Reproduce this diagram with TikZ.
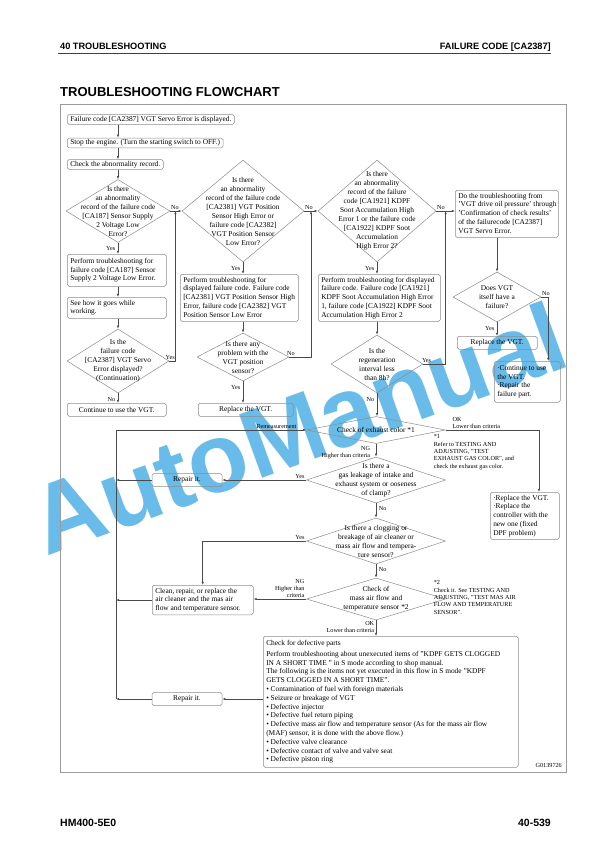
\documentclass[tikz,border=0pt]{standalone}
\usepackage{fontspec}
\setmainfont{Liberation Serif}
\newfontfamily\hsans{Liberation Sans}
\usetikzlibrary{shapes.geometric,arrows.meta,calc}

\definecolor{bxc}{HTML}{8C8C8C}
\definecolor{lnc}{HTML}{4A4A4A}
\definecolor{wmc}{HTML}{4FB1E6}
\definecolor{frc}{HTML}{9A9A9A}

\newcommand\fA{\fontsize{7.4bp}{8.8bp}\selectfont}
\newcommand\fD{\fontsize{7.4bp}{9bp}\selectfont}
\newcommand\fS{\fontsize{6.2bp}{7.3bp}\selectfont}
\newcommand\fH{\hsans\bfseries\fontsize{9.2bp}{10bp}\selectfont}
\newcommand\fF{\hsans\bfseries\fontsize{10.5bp}{11bp}\selectfont}
\newcommand\lbx[2]{\makebox[#1][l]{\begin{tabular}{@{}l@{}}#2\end{tabular}}}

\tikzset{
 box/.style={draw=bxc, line width=0.5bp, rounded corners=1.8bp, font=\fA, inner xsep=3bp, inner ysep=1.6bp, text=black},
 lbox/.style={box, anchor=north west},
 dia/.style={draw=bxc, line width=0.5bp, diamond, inner sep=0pt},
 dtxt/.style={font=\fD, align=center, inner sep=0pt},
 lab/.style={font=\fS, inner sep=0.6bp},
 arr/.style={draw=lnc, line width=0.6bp, -{Latex[length=3.2bp,width=2.4bp]}},
}

\begin{document}
\begin{tikzpicture}[x=1bp,y=-1bp]
\useasboundingbox (0,0) rectangle (612,864);
\fill[white] (0,0) rectangle (612,864);

% ---- watermark (behind the drawing)
\node[rotate=20, font=\hsans\bfseries\fontsize{98bp}{98bp}\selectfont, text=wmc, opacity=0.85, inner sep=0pt] (wmk) at (298,428) {AutoManual};

% header / footer
\node[font=\fH, anchor=base west, inner sep=0pt] (h1) at (60,49) {40 TROUBLESHOOTING};
\node[font=\fH, anchor=base east, inner sep=0pt] (h2) at (551,49) {FAILURE CODE [CA2387]};
\draw[draw=black!75, line width=1.3bp] (58,53.5) -- (551,53.5);
\node[font=\hsans\bfseries\fontsize{13bp}{14bp}\selectfont, anchor=base west, inner sep=0pt] (ttl) at (60,96) {TROUBLESHOOTING FLOWCHART};
\node[font=\fF, anchor=base west, inner sep=0pt] (f1) at (60,826) {HM400-5E0};
\node[font=\fF, anchor=base east, inner sep=0pt] (f2) at (551,826) {40-539};

% frame
\draw[draw=frc, line width=0.9bp] (60,104) rectangle (566,772);

% ---- column A
\node[box, anchor=west] (b1) at (67,119.5) {Failure code [CA2387] VGT Servo Error is displayed.};
\node[box, anchor=west] (b2) at (67,143) {Stop the engine. (Turn the starting switch to OFF.)};
\node[box, anchor=west] (b3) at (67,164.5) {Check the abnormality record.};
\node[dia, minimum width=104bp, minimum height=63bp] (d1) at (118,211) {};
\node[dtxt] (d1t) at (d1.center) {Is there\\an abnormality\\record of the failure code\\{[}CA187] Sensor Supply\\2 Voltage Low\\Error?};
\node[lbox, minimum height=32bp] (b4) at (67,254) {\lbx{93bp}{Perform troubleshooting for\\failure code {[}CA187] Sensor\\Supply 2 Voltage Low Error.}};
\node[lbox, minimum height=21bp] (b5) at (67,297) {\lbx{93bp}{See how it goes while\\working.}};
\node[dia, minimum width=102bp, minimum height=64bp] (d5) at (118,361) {};
\node[dtxt] (d5t) at (d5.center) {Is the\\failure code\\{[}CA2387] VGT Servo\\Error displayed?\\(Continuation)};
\node[box, anchor=north west, minimum width=99bp, minimum height=13bp] (b6) at (67,403) {Continue to use the VGT.};

% ---- column B
\node[dia, minimum width=122bp, minimum height=102bp] (d2) at (243,211) {};
\node[dtxt] (d2t) at (d2.center) {Is there\\an abnormality\\record of the failure code\\{[}CA2381] VGT Position\\Sensor High Error or\\failure code {[}CA2382]\\VGT Position Sensor\\Low Error?};
\node[lbox] (b7) at (180,274) {\lbx{112bp}{Perform troubleshooting for\\displayed failure code. Failure code\\{[}CA2381] VGT Position Sensor High\\Error, failure code {[}CA2382] VGT\\Position Sensor Low Error}};
\node[dia, minimum width=92bp, minimum height=48bp] (d6) at (243,357) {};
\node[dtxt] (d6t) at (d6.center) {Is there any\\problem with the\\VGT position\\sensor?};
\node[box, anchor=north west, minimum width=95bp, minimum height=13bp] (b8) at (198,403) {Replace the VGT.};

% ---- column C
\node[dia, minimum width=118bp, minimum height=102bp] (d3) at (377,211) {};
\node[dtxt] (d3t) at (d3.center) {Is there\\an abnormality\\record of the failure\\code {[}CA1921] KDPF\\Soot Accumulation High\\Error 1 or the failure code\\{[}CA1922] KDPF Soot\\Accumulation\\High Error 2?};
\node[lbox] (b9) at (318,274) {\lbx{116bp}{Perform troubleshooting for displayed\\failure code. Failure code {[}CA1921]\\KDPF Soot Accumulation High Error\\1, failure code {[}CA1922] KDPF Soot\\Accumulation High Error 2}};
\node[dia, minimum width=92bp, minimum height=58bp] (d7) at (377,364) {};
\node[dtxt] (d7t) at (d7.center) {Is the\\regeneration\\interval less\\than 8h?};

% ---- column D
\node[lbox] (b10) at (455,190) {\lbx{97bp}{Do the troubleshooting from\\'VGT drive oil pressure' through\\'Confirmation of check results'\\of the failurecode {[}CA2387]\\VGT Servo Error.}};
\node[dia, minimum width=88bp, minimum height=50bp] (d4) at (497,297) {};
\node[dtxt] (d4t) at (d4.center) {Does VGT\\itself have a\\failure?};
\node[box, anchor=north west, minimum width=80bp, minimum height=13bp] (b11) at (457,336) {Replace the VGT.};
\node[lbox, minimum height=41bp] (b12) at (494,361) {\lbx{60bp}{·Continue to use\\the VGT.\\·Repair the\\failure part.}};

% ---- lower part
\node[dia, minimum width=139bp, minimum height=27bp] (d8) at (376,430) {};
\node[dtxt] (d8t) at (d8.center) {Check of exhaust color *1};
\node[dia, minimum width=139bp, minimum height=46bp] (d9) at (376,480) {};
\node[dtxt] (d9t) at (d9.center) {Is there a\\gas leakage of intake and\\exhaust system or ooseness\\of clamp?};
\node[dia, minimum width=139bp, minimum height=46bp] (d10) at (376,541) {};
\node[dtxt] (d10t) at (d10.center) {Is there a clogging or\\breakage of air cleaner or\\mass air flow and tempera-\\ture sensor?};
\node[dia, minimum width=139bp, minimum height=42bp] (d11) at (376,599) {};
\node[dtxt] (d11t) at (d11.center) {Check of\\mass air flow and\\temperature sensor *2};
\node[box, minimum width=70bp, minimum height=13bp] (rep1) at (187,480) {Repair it.};
\node[lbox, minimum height=29bp] (clean) at (152,585) {\lbx{95bp}{Clean, repair, or replace the\\air cleaner and the mas air\\flow and temperature sensor.}};
\node[lbox, minimum height=46bp] (b13) at (490,492) {\lbx{63bp}{·Replace the VGT.\\·Replace the\\controller with the\\new one (fixed\\DPF problem)}};
\node[lbox, minimum height=131bp] (big) at (263,636) {\lbx{249bp}{Check for defective parts\\[2.5bp]
Perform troubleshooting about unexecuted items of "KDPF GETS CLOGGED\\IN A SHORT TIME " in S mode according to shop manual.\\The following is the items not yet executed in this flow in S mode "KDPF\\GETS CLOGGED IN A SHORT TIME".\\• Contamination of fuel with foreign materials\\• Seizure or breakage of VGT\\• Defective injector\\• Defective fuel return piping\\• Defective mass air flow and temperature sensor (As for the mass air flow\\(MAF) sensor, it is done with the above flow.)\\• Defective valve clearance\\• Defective contact of valve and valve seat\\• Defective piston ring}};
\node[box, minimum width=70bp, minimum height=13bp] (rep2) at (187,699) {Repair it.};

% ---- connectors
\draw[arr] (b1.south -| d1) -- (b2.north -| d1);
\draw[arr] (b2.south -| d1) -- (b3.north -| d1);
\draw[arr] (b3.south -| d1) -- (d1.north);
\draw[arr] (d1.south) -- (b4.north -| d1);
\draw[arr] (b4.south -| d5) -- (b5.north -| d5);
\draw[arr] (b5.south -| d5) -- (d5.north);
\draw[arr] (d5.south) -- (b6.north -| d5);
\draw[arr] (d1.east) -- (d2.west);
\coordinate (j1) at ($(d1.east)!0.45!(d2.west)$);
\draw[arr] (d5.east) -| (j1);

\draw[arr] (d2.south) -- (b7.north -| d2);
\draw[arr] (b7.south -| d2) -- (d6.north);
\draw[arr] (d6.south) -- (b8.north -| d6);
\draw[arr] (d2.east) -- (d3.west);
\coordinate (j2) at ($(d2.east)!0.5!(d3.west)$);
\draw[arr] (d6.east) -| (j2);

\draw[arr] (d3.south) -- (b9.north -| d3);
\draw[arr] (b9.south -| d3) -- (d7.north);
\draw[arr] (d7.south) -- (d8.north -| d7);
\draw[arr] (d3.east) -- (d3.east -| b10.west);
\coordinate (j3) at ($(d3.east)!0.5!(d3.east -| b10.west)$);
\draw[arr] (d7.east) -| (j3);

\draw[arr] (b10.south -| d4) -- (d4.north);
\draw[arr] (d4.south) -- (b11.north -| d4);
\coordinate (c4) at ($(d4.east)+(7,0)$);
\draw[arr] (d4.east) -- (c4) -- (c4 |- b12.north);

\coordinate (c8) at (539,430);
\draw[arr] (d8.east) -- (c8) -- (c8 |- b13.north);
\draw[arr] (d8.south) -- (d9.north);
\draw[arr] (d9.west) -- (rep1.east);
\draw[arr] (d9.south) -- (d10.north);
\draw[arr] (d10.west) -| (clean.north);
\draw[arr] (d10.south) -- (d11.north);
\draw[arr] (d11.west) -- (d11.west -| clean.east);
\draw[arr] (d11.south) -- (big.north -| d11);
\draw[arr] (rep2.east -| big.west) -- (rep2.east);

\coordinate (lx) at (116,430);
\draw[arr] (rep1.west) -- (rep1.west -| lx);
\draw[arr] (clean.west) -- (clean.west -| lx);
\draw[arr] (rep2.west) -- (rep2.west -| lx);
\draw[arr] (rep2.west -| lx) -- (lx) -- (d8.west);

% ---- labels
\node[lab, anchor=south west] (l1n) at ($(d1.east)+(0,-0.5)$) {No};
\node[lab, anchor=east] (l1y) at ($(d1.south)+(-2,6)$) {Yes};
\node[lab, anchor=south] (l5y) at ($(d5.east)+(1,-1)$) {Yes};
\node[lab, anchor=east] (l5n) at ($(d5.south)+(-2,6)$) {No};
\node[lab, anchor=south west] (l2n) at ($(d2.east)+(0,-0.5)$) {No};
\node[lab, anchor=east] (l2y) at ($(d2.south)+(-2,6)$) {Yes};
\node[lab, anchor=south west] (l6n) at ($(d6.east)+(-3,-1)$) {No};
\node[lab, anchor=east] (l6y) at ($(d6.south)+(-2,6)$) {Yes};
\node[lab, anchor=south west] (l3n) at ($(d3.east)+(0,-0.5)$) {No};
\node[lab, anchor=east] (l3y) at ($(d3.south)+(-2,6)$) {Yes};
\node[lab, anchor=south west] (l7y) at ($(d7.east)+(-2,-1)$) {Yes};
\node[lab, anchor=east] (l7n) at ($(d7.south)+(-2,6)$) {No};
\node[lab, anchor=south west] (l4n) at ($(d4.east)+(0,-0.5)$) {No};
\node[lab, anchor=east] (l4y) at ($(d4.south)+(-2,6)$) {Yes};
\node[lab, anchor=south east] (lrm) at ($(d8.west)+(-9,-0.5)$) {Remeasurement};
\node[lab, align=left, anchor=south west] (l8ok) at ($(d8.east)+(6,-0.5)$) {OK\\Lower than criteria};
\node[lab, align=right, anchor=east] (l8ng) at ($(d8.south)+(-5,9)$) {NG\\Higher than criteria};
\node[lab, align=left, anchor=north west] (fn1) at (433,434) {*1\\Refer to TESTING AND\\ADJUSTING, "TEST\\EXHAUST GAS COLOR", and\\check the exhaust gas color.};
\node[lab, anchor=south east] (l9y) at ($(d9.west)+(-1,-0.5)$) {Yes};
\node[lab, anchor=west] (l9n) at ($(d9.south)+(2,5)$) {No};
\node[lab, anchor=south east] (l10y) at ($(d10.west)+(-1,-0.5)$) {Yes};
\node[lab, anchor=west] (l10n) at ($(d10.south)+(2,5)$) {No};
\node[lab, align=right, anchor=south east] (l11ng) at ($(d11.west)+(-1,-0.5)$) {NG\\Higher than\\criteria};
\node[lab, align=right, anchor=east] (l11ok) at ($(d11.south)+(-1,7)$) {OK\\Lower than criteria};
\node[lab, align=left, anchor=north west] (fn2) at (433,580) {*2\\Check it. See TESTING AND\\ADJUSTING, "TEST MAS AIR\\FLOW AND TEMPERATURE\\SENSOR".};
\node[font=\fontsize{6.2bp}{7bp}\selectfont, anchor=south east, inner sep=0pt] (gid) at (562,768) {G0139726};
\end{tikzpicture}
\end{document}
